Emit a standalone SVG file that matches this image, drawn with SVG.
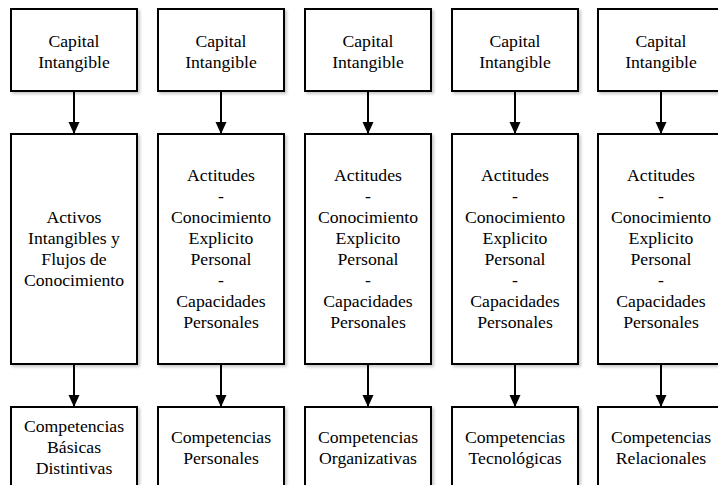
<svg xmlns="http://www.w3.org/2000/svg" width="718" height="485" viewBox="0 0 718 485">
  <style>
    .box { fill: #ffffff; stroke: #000000; stroke-width: 2; filter: url(#shadow); }
    .lbl { font-family: "Liberation Serif", "Times New Roman", serif; font-size: 17.7px; fill: #000000; text-anchor: middle; }
    .edge { stroke: #000000; stroke-width: 2; fill: none; marker-end: url(#arrow); }
  </style>
  <defs>
    <marker id="arrow" markerWidth="12" markerHeight="12" refX="12" refY="6" orient="auto" markerUnits="userSpaceOnUse" viewBox="0 0 12 12">
      <path d="M0,0.5 L12,6 L0,11.5 Z" fill="#000000"/>
    </marker>
    <filter id="shadow" x="-10%" y="-10%" width="130%" height="130%">
      <feGaussianBlur in="SourceAlpha" stdDeviation="1.5"/>
      <feOffset dx="1.5" dy="1.5" result="b"/>
      <feComponentTransfer><feFuncA type="linear" slope="0.22"/></feComponentTransfer>
      <feMerge><feMergeNode/><feMergeNode in="SourceGraphic"/></feMerge>
    </filter>
  </defs>
  <rect width="718" height="485" fill="#ffffff"/>

  <!-- connectors -->
  <g id="connectors">
    <path class="edge" d="M74,91 V134"/>
    <path class="edge" d="M74,364 V407"/>
    <path class="edge" d="M221,91 V134"/>
    <path class="edge" d="M221,364 V407"/>
    <path class="edge" d="M368,91 V134"/>
    <path class="edge" d="M368,364 V407"/>
    <path class="edge" d="M515,91 V134"/>
    <path class="edge" d="M515,364 V407"/>
    <path class="edge" d="M661,91 V134"/>
    <path class="edge" d="M661,364 V407"/>
  </g>

  <!-- column 1 -->
  <g id="cap1">
    <rect class="box" x="11" y="9" width="126" height="82"/>
    <text class="lbl" x="74" y="47">Capital</text>
    <text class="lbl" x="74" y="68">Intangible</text>
  </g>
  <g id="mid1">
    <rect class="box" x="11" y="134" width="126" height="230"/>
    <text class="lbl" x="74" y="223">Activos</text>
    <text class="lbl" x="74" y="244">Intangibles y</text>
    <text class="lbl" x="74" y="265">Flujos de</text>
    <text class="lbl" x="74" y="286">Conocimiento</text>
  </g>
  <g id="comp1">
    <rect class="box" x="11" y="407" width="126" height="90"/>
    <text class="lbl" x="74" y="432">Competencias</text>
    <text class="lbl" x="74" y="453">Básicas</text>
    <text class="lbl" x="74" y="474">Distintivas</text>
  </g>

  <!-- column 2 -->
  <g id="cap2">
    <rect class="box" x="158" y="9" width="126" height="82"/>
    <text class="lbl" x="221" y="47">Capital</text>
    <text class="lbl" x="221" y="68">Intangible</text>
  </g>
  <g id="mid2">
    <rect class="box" x="158" y="134" width="126" height="230"/>
    <text class="lbl" x="221" y="181">Actitudes</text>
    <text class="lbl" x="221" y="202">-</text>
    <text class="lbl" x="221" y="223">Conocimiento</text>
    <text class="lbl" x="221" y="244">Explicito</text>
    <text class="lbl" x="221" y="265">Personal</text>
    <text class="lbl" x="221" y="286">-</text>
    <text class="lbl" x="221" y="307">Capacidades</text>
    <text class="lbl" x="221" y="328">Personales</text>
  </g>
  <g id="comp2">
    <rect class="box" x="158" y="407" width="126" height="90"/>
    <text class="lbl" x="221" y="443">Competencias</text>
    <text class="lbl" x="221" y="464">Personales</text>
  </g>

  <!-- column 3 -->
  <g id="cap3">
    <rect class="box" x="305" y="9" width="126" height="82"/>
    <text class="lbl" x="368" y="47">Capital</text>
    <text class="lbl" x="368" y="68">Intangible</text>
  </g>
  <g id="mid3">
    <rect class="box" x="305" y="134" width="126" height="230"/>
    <text class="lbl" x="368" y="181">Actitudes</text>
    <text class="lbl" x="368" y="202">-</text>
    <text class="lbl" x="368" y="223">Conocimiento</text>
    <text class="lbl" x="368" y="244">Explicito</text>
    <text class="lbl" x="368" y="265">Personal</text>
    <text class="lbl" x="368" y="286">-</text>
    <text class="lbl" x="368" y="307">Capacidades</text>
    <text class="lbl" x="368" y="328">Personales</text>
  </g>
  <g id="comp3">
    <rect class="box" x="305" y="407" width="126" height="90"/>
    <text class="lbl" x="368" y="443">Competencias</text>
    <text class="lbl" x="368" y="464">Organizativas</text>
  </g>

  <!-- column 4 -->
  <g id="cap4">
    <rect class="box" x="452" y="9" width="126" height="82"/>
    <text class="lbl" x="515" y="47">Capital</text>
    <text class="lbl" x="515" y="68">Intangible</text>
  </g>
  <g id="mid4">
    <rect class="box" x="452" y="134" width="126" height="230"/>
    <text class="lbl" x="515" y="181">Actitudes</text>
    <text class="lbl" x="515" y="202">-</text>
    <text class="lbl" x="515" y="223">Conocimiento</text>
    <text class="lbl" x="515" y="244">Explicito</text>
    <text class="lbl" x="515" y="265">Personal</text>
    <text class="lbl" x="515" y="286">-</text>
    <text class="lbl" x="515" y="307">Capacidades</text>
    <text class="lbl" x="515" y="328">Personales</text>
  </g>
  <g id="comp4">
    <rect class="box" x="452" y="407" width="126" height="90"/>
    <text class="lbl" x="515" y="443">Competencias</text>
    <text class="lbl" x="515" y="464">Tecnológicas</text>
  </g>

  <!-- column 5 -->
  <g id="cap5">
    <rect class="box" x="598" y="9" width="126" height="82"/>
    <text class="lbl" x="661" y="47">Capital</text>
    <text class="lbl" x="661" y="68">Intangible</text>
  </g>
  <g id="mid5">
    <rect class="box" x="598" y="134" width="126" height="230"/>
    <text class="lbl" x="661" y="181">Actitudes</text>
    <text class="lbl" x="661" y="202">-</text>
    <text class="lbl" x="661" y="223">Conocimiento</text>
    <text class="lbl" x="661" y="244">Explicito</text>
    <text class="lbl" x="661" y="265">Personal</text>
    <text class="lbl" x="661" y="286">-</text>
    <text class="lbl" x="661" y="307">Capacidades</text>
    <text class="lbl" x="661" y="328">Personales</text>
  </g>
  <g id="comp5">
    <rect class="box" x="598" y="407" width="126" height="90"/>
    <text class="lbl" x="661" y="443">Competencias</text>
    <text class="lbl" x="661" y="464">Relacionales</text>
  </g>
</svg>
